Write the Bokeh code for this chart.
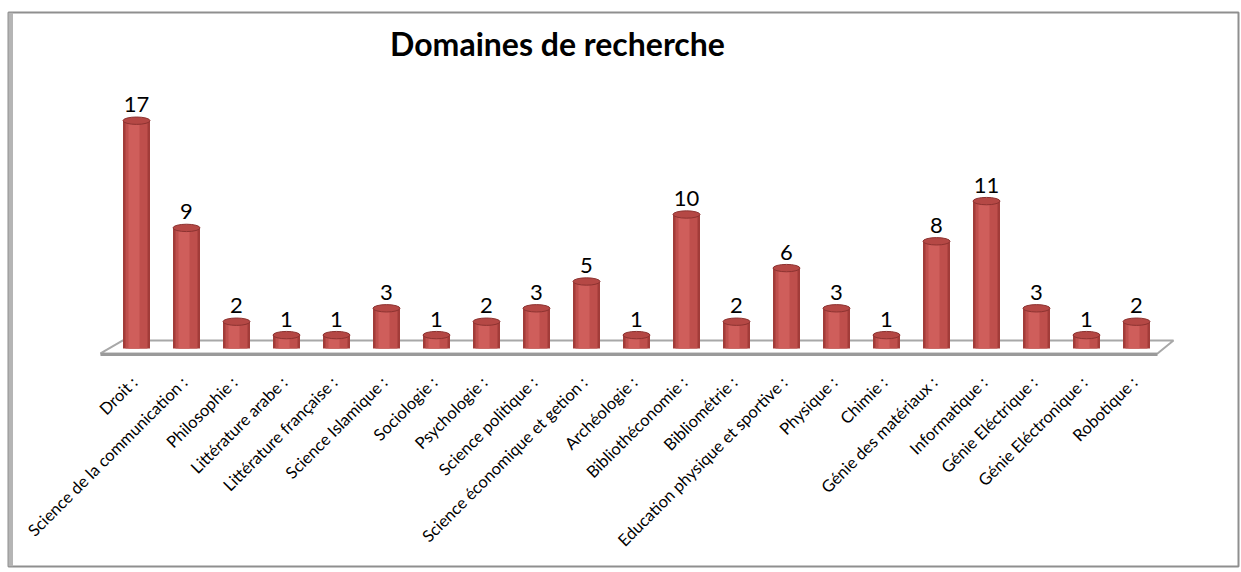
import numpy as np
from bokeh.plotting import figure
from bokeh.models import Range1d, ColumnDataSource, Label, Span
from bokeh.core.properties import value
from bokeh.embed import file_html
from bokeh.resources import INLINE

# ---- data ----
categories = [
    "Droit :", "Science de la communication :", "Philosophie :", "Littérature arabe :",
    "Littérature française :", "Science Islamique :", "Sociologie :", "Psychologie :",
    "Science politique :", "Science économique et getion :", "Archéologie :",
    "Bibliothéconomie :", "Bibliométrie :", "Education physique et sportive :",
    "Physique :", "Chimie :", "Génie des matériaux :", "Informatique :",
    "Génie Eléctrique :", "Génie Eléctronique :", "Robotique :",
]
counts = [17, 9, 2, 1, 1, 3, 1, 2, 3, 5, 1, 10, 2, 6, 3, 1, 8, 11, 3, 1, 2]
title_text = "Domaines de recherche"

n = len(categories)
idx = np.arange(n, dtype=float)

W, H = 1241, 572
PX_X = 50.0     # px per category
PX_Y = 13.4     # px per unit
ML, MT, MR, MB = 8, 12, 3, 6
fw, fh = W - ML - MR, H - MT - MB
xs = -(136 - ML) / PX_X
ye = (348 - MT) / PX_Y

p = figure(width=W, height=H, output_backend="svg", toolbar_location=None,
           x_range=Range1d(xs, xs + fw / PX_X), y_range=Range1d(ye - fh / PX_Y, ye),
           min_border_left=ML, min_border_top=MT, min_border_right=MR, min_border_bottom=MB)
p.axis.visible = False
p.grid.visible = False
p.background_fill_color = "white"
p.border_fill_color = "white"
p.outline_line_color = "#8f8f8f"
p.outline_line_width = 2

# left shadow of frame
p.add_layout(Span(location=xs + 0.04, dimension="height", line_color="#b5b5b5", line_width=5))

# 3D floor
back_y, front_y = 0.59, -0.37
p.patch([-0.28, n - 1 + 0.74, n - 1 + 0.42, -0.72],
        [back_y, back_y, front_y, front_y],
        fill_color="white", line_color="#a8a8a8", line_width=2)
p.line([-0.72, n - 1 + 0.42], [front_y - 0.08, front_y - 0.08], line_color="#9a9a9a", line_width=3)

src = ColumnDataSource(dict(x=idx, xh=idx - 0.05, top=counts, cat=categories,
                            lab=[str(c) for c in counts]))

# cylinders
p.vbar(x="x", top="top", bottom=0, width=0.54, source=src,
       fill_color="#a23c39", line_color=None)
p.vbar(x="x", top="top", bottom=0, width=0.44, source=src,
       fill_color="#bf4f4c", line_color=None)
p.vbar(x="xh", top="top", bottom=0, width=0.22, source=src,
       fill_color="#cf5e5b", line_color=None)
p.ellipse(x="x", y="top", width=0.54, height=0.55, source=src,
          fill_color="#b54845", line_color="#8d3331", line_width=1)

# value labels
p.text(x="x", y="top", text="lab", source=src, text_align="center",
       text_baseline="middle", y_offset=-16, text_font=value("Lato"),
       text_font_size="22px", text_color="black")

# category labels
p.text(x="x", y=0, text="cat", source=src, angle=np.pi / 4,
       text_align="right", text_baseline="middle", x_offset=-2, y_offset=31,
       text_font=value("Lato"), text_font_size="16.5px", text_color="black")

# title
p.add_layout(Label(x=(n - 1) / 2 - 1.58, y=22.76, text=title_text,
                   text_align="center", text_baseline="middle",
                   text_font="Lato", text_font_style="bold",
                   text_font_size="32px", text_color="black"))

open("out.html", "w").write(file_html(p, INLINE))
